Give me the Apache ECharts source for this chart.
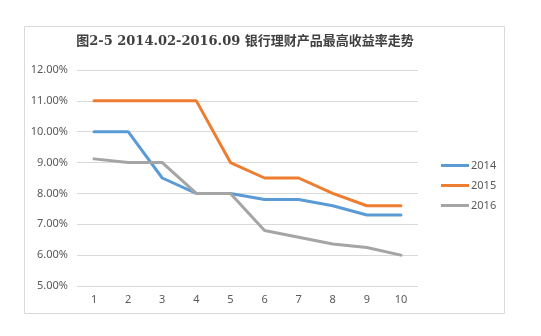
<!DOCTYPE html>
<html><head><meta charset="utf-8">
<script src="https://cdn.jsdelivr.net/npm/echarts@6/dist/echarts.min.js"></script>
<style>html,body{margin:0;padding:0;background:#fff}#c{width:541px;height:336px}</style>
</head><body><div id="c"></div>
<script>
var categories = ['1','2','3','4','5','6','7','8','9','10'];
var s2014 = [10, 10, 8.5, 8, 8, 7.8, 7.8, 7.6, 7.3, 7.3];
var s2015 = [11, 11, 11, 11, 9, 8.5, 8.5, 8, 7.6, 7.6];
var s2016 = [9.12, 9, 9, 8, 8, 6.8, 6.58, 6.36, 6.25, 6.0];
var seriesNames = ['2014','2015','2016'];
var colors = ['#5b9bd5','#ed7d31','#a5a5a5'];
var titleText = '图2-5 2014.02-2016.09 银行理财产品最高收益率走势';

var chart = echarts.init(document.getElementById('c'), null, {renderer:'canvas'});
var data = [s2014, s2015, s2016];
chart.setOption({
  animation: false,
  color: colors,
  graphic: [{type:'rect', shape:{x:24.5,y:26.5,width:480,height:287}, style:{fill:'none', stroke:'#d9d9d9', lineWidth:1}, z:-1}],
  title: {text: titleText, left: 240, textAlign:'center', top: 30,
    textStyle:{fontSize:13, fontWeight:'bold', color:'#404040', fontFamily:'"DejaVu Serif", "Noto Sans CJK SC", serif'}},
  legend: {orient:'vertical', left: 436, top: 155, itemWidth: 28, itemHeight: 3, itemGap: 9, icon:'rect',
    textStyle:{fontSize:11, color:'#595959', padding:[0,0,0,-3], fontFamily:'"Noto Sans", sans-serif'},
    data: seriesNames},
  grid: {left: 77, right: 123, top: 70, bottom: 50, containLabel:false},
  xAxis: {type:'category', data: categories, boundaryGap:true,
    axisLine:{show:false}, axisTick:{show:false},
    axisLabel:{color:'#595959', fontSize:11, margin:8, fontFamily:'"Noto Sans", sans-serif'}},
  yAxis: {type:'value', min:5, max:12, interval:1,
    axisLine:{show:false}, axisTick:{show:false},
    splitLine:{lineStyle:{color:'#d9d9d9', width:1}},
    axisLabel:{color:'#595959', fontSize:11, margin:9, fontFamily:'"Noto Sans", sans-serif',
      formatter: function(v){return v.toFixed(2)+'%';}}},
  series: seriesNames.map(function(n,i){return {name:n, type:'line', data:data[i], symbol:'none',
    lineStyle:{width:3, color:colors[i], cap:'round'}};})
});
</script></body></html>
